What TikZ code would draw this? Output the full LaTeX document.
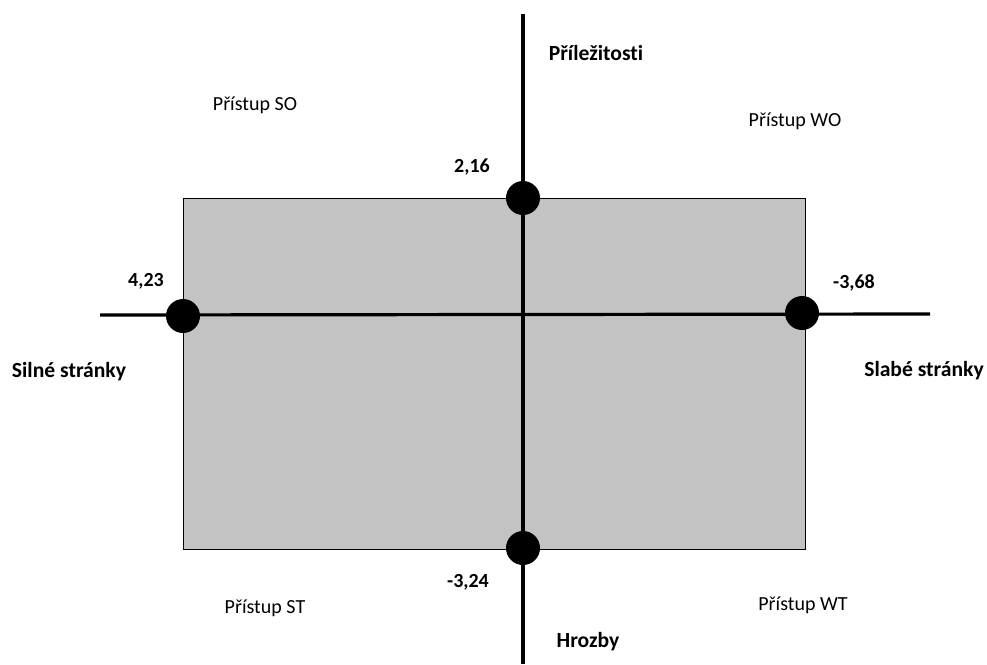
\documentclass[tikz,border=0pt]{standalone}
\usepackage{fontspec}
\setmainfont[Ligatures=NoCommon]{Carlito}
\definecolor{boxgray}{HTML}{C3C3C3}
\begin{document}
\begin{tikzpicture}[x=0.75pt,y=-0.75pt,
  axis/.style={line width=2.4pt,black},
  dot/.style={circle,fill=black,minimum size=25.5pt,inner sep=0pt},
  lbl/.style={font=\fontsize{16.2}{18}\selectfont\bfseries,inner sep=0pt},
  num/.style={font=\fontsize{15}{18}\selectfont\bfseries,inner sep=0pt},
  quad/.style={font=\fontsize{15}{18}\selectfont,inner sep=0pt}]
\useasboundingbox (0,0) rectangle (987,664);
\draw[fill=boxgray,draw=black,line width=0.75pt] (183,198) rectangle (805,549);
\coordinate (L) at (100,315);
\coordinate (R) at (930,314);
\coordinate (T) at (523,14);
\coordinate (B) at (523,664);
\draw[axis] (L) -- (R);
\draw[axis] (T) -- (B);
\node[dot] (dl) at (183,316) {};
\node[dot] (dt) at (523,198) {};
\node[dot] (dr) at (802,313) {};
\node[dot] (db) at (523,548) {};
\node[num] (v1) at (146,281) {4,23};
\node[num] (v2) at (472,167) {2,16};
\node[num] (v3) at (854,283) {-3,68};
\node[num] (v4) at (468,582) {-3,24};
\node[lbl] (n1) at (596,53) {Příležitosti};
\node[lbl] (n2) at (588,642) {Hrozby};
\node[lbl] (n3) at (69,372) {Silné stránky};
\node[lbl] (n4) at (924,371) {Slabé stránky};
\node[quad] (q1) at (255,105) {Přístup SO};
\node[quad] (q2) at (795,121) {Přístup WO};
\node[quad] (q3) at (265,608) {Přístup ST};
\node[quad] (q4) at (803,605) {Přístup WT};
\end{tikzpicture}
\end{document}
